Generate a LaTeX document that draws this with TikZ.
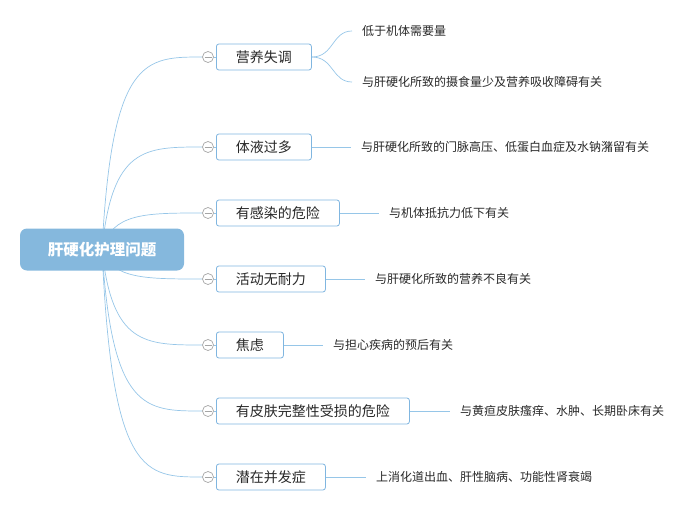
\documentclass[tikz,border=0pt]{standalone}
\usepackage{fontspec}
\newfontfamily\cjk{Noto Sans CJK SC}
\usetikzlibrary{positioning, backgrounds}

\definecolor{rootblue}{RGB}{133,184,221}
\definecolor{boxline}{RGB}{128,182,224}
\definecolor{connline}{RGB}{150,198,232}
\definecolor{foldgray}{RGB}{165,165,165}
\definecolor{txtgray}{RGB}{40,40,40}

\tikzset{
    rootbox/.style={rectangle, rounded corners=7pt, fill=rootblue, text=white,
        minimum width=164pt, minimum height=42pt, font=\cjk\bfseries\fontsize{15.5}{18}\selectfont},
    topicbox/.style={rectangle, rounded corners=2.5pt, draw=boxline, line width=0.8pt, fill=white,
        inner xsep=19.5pt, minimum height=26pt, text=txtgray, font=\cjk\fontsize{14}{16}\selectfont},
    leaftext/.style={inner xsep=10pt, inner ysep=2pt, text=txtgray, font=\cjk\fontsize{12}{14}\selectfont},
    foldmark/.style={circle, draw=foldgray, line width=0.7pt, fill=white, minimum size=11pt, inner sep=0pt,
        path picture={\draw[foldgray, line width=0.7pt]
            ([xshift=-3.5pt]path picture bounding box.center) -- ([xshift=3.5pt]path picture bounding box.center);}},
    conn/.style={connline, line width=0.7pt}
}

\begin{document}
\begin{tikzpicture}[x=1pt, y=-1pt]
    \useasboundingbox (0,0) rectangle (698,511);

    % 中心主题
    \node[rootbox] (root) at (102,249.5) {肝硬化护理问题};

    % 护理问题
    \foreach \i/\y/\txt in {1/57/营养失调, 2/147/体液过多, 3/213/有感染的危险, 4/279/活动无耐力,
                            5/345/焦虑, 6/411/有皮肤完整性受损的危险, 7/477/潜在并发症} {
        \node[foldmark] (f\i) at (208,\y) {};
        \node[topicbox, anchor=west] (b\i) at (216,\y) {\txt};
    }

    % 相关因素
    \node[leaftext, anchor=west] (l1a) at (352,31) {低于机体需要量};
    \node[leaftext, anchor=west] (l1b) at (352,82) {与肝硬化所致的摄食量少及营养吸收障碍有关};
    \node[leaftext, right=39pt of b2] (l2) {与肝硬化所致的门脉高压、低蛋白血症及水钠潴留有关};
    \node[leaftext, right=39pt of b3] (l3) {与机体抵抗力低下有关};
    \node[leaftext, right=39pt of b4] (l4) {与肝硬化所致的营养不良有关};
    \node[leaftext, right=39pt of b5] (l5) {与担心疾病的预后有关};
    \node[leaftext, right=40pt of b6] (l6) {与黄疸皮肤瘙痒、水肿、长期卧床有关};
    \node[leaftext, right=40pt of b7] (l7) {上消化道出血、肝性脑病、功能性肾衰竭};

    % 连线
    \begin{scope}[on background layer]
        \foreach \i/\y in {1/57, 2/147, 3/213, 4/279, 5/345, 6/411, 7/477} {
            \draw[conn] (root.center) .. controls (112,\y) and (145,\y) .. (f\i.west);
            \draw[conn] (f\i.east) -- (b\i.west);
        }
        \draw[conn] (b1.east) .. controls +(22,0) and +(-20,0) .. (l1a.west);
        \draw[conn] (b1.east) .. controls +(22,0) and +(-20,0) .. (l1b.west);
        \foreach \i in {2,...,7}
            \draw[conn] (b\i.east) -- (l\i.west);
    \end{scope}
\end{tikzpicture}
\end{document}
